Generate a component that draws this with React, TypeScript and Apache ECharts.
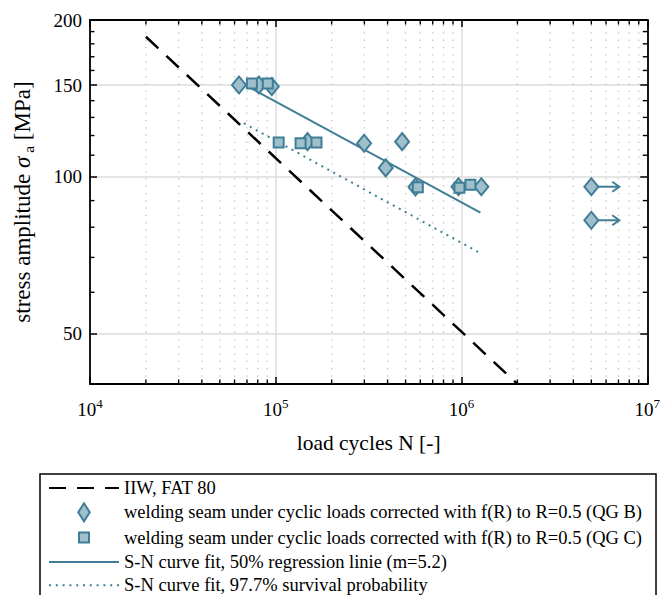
import React, { useEffect, useRef } from "react";
import * as echarts from "echarts";

// ---- axis ranges & ticks ----
const X_MIN = 1e4;
const X_MAX = 1e7;
const Y_MIN = 40;
const Y_MAX = 200;
const yTickValues = [50, 100, 150, 200];
const yMinorValues = [60, 70, 80, 90, 110, 120, 130, 140, 160, 170, 180, 190];
const xMinorValues = [
  2e4, 3e4, 4e4, 5e4, 6e4, 7e4, 8e4, 9e4,
  2e5, 3e5, 4e5, 5e5, 6e5, 7e5, 8e5, 9e5,
  2e6, 3e6, 4e6, 5e6, 6e6, 7e6, 8e6, 9e6,
];

// ---- data (N, stress amplitude MPa) ----
const iiwFat80 = [
  [20000, 185.7],
  [2000000, 40],
];
const qgB = [
  [63400, 150],
  [81100, 150],
  [95200, 149],
  [148300, 116.8],
  [299000, 116],
  [390800, 104],
  [479000, 116.8],
  [565000, 95.6],
  [963000, 95.7],
  [1279000, 95.7],
  [5000000, 95.7],
  [5000000, 82.5],
];
const qgC = [
  [74400, 151],
  [90600, 151],
  [103700, 116.3],
  [136000, 116],
  [165700, 116.3],
  [582000, 95.5],
  [975000, 95.3],
  [1117000, 96.5],
];
const fit50 = [
  [71700, 148.7],
  [1264000, 85.3],
];
const fit977 = [
  [67400, 126.7],
  [1264000, 71.3],
];
// runouts: start N, stress, arrow end N
const runouts = [
  [5000000, 95.7, 7070000],
  [5000000, 82.5, 7070000],
];

const NAME_FAT = "IIW, FAT 80";
const NAME_B = "welding seam under cyclic loads corrected with f(R) to R=0.5 (QG B)";
const NAME_C = "welding seam under cyclic loads corrected with f(R) to R=0.5 (QG C)";
const NAME_50 = "S-N curve fit, 50% regression linie (m=5.2)";
const NAME_977 = "S-N curve fit, 97.7% survival probability";

const SERIF = "Liberation Serif, DejaVu Serif, serif";
const TEAL = "#3f7e96";
const FILL = "#9fbfcb";
const GRID = "#dcdcdc";
const GRID_DOT = "#c4c4c4";

export default function App() {
  const ref = useRef<HTMLDivElement>(null);

  useEffect(() => {
    if (!ref.current) return;
    const chart = echarts.init(ref.current, undefined, { renderer: "svg" });

    const axisLine = { show: true, lineStyle: { color: "#000", width: 1.8 } };
    const hiddenSymbol = { opacity: 0 };

    const option: any = {
      animation: false,
      backgroundColor: "#fff",
      textStyle: { fontFamily: SERIF },
      grid: { left: 90, right: 11, top: 20, bottom: 211 },
      xAxis: [
        {
          type: "log",
          min: X_MIN,
          max: X_MAX,
          position: "bottom",
          axisLine,
          axisTick: { show: true, inside: true, length: 7, lineStyle: { color: "#000", width: 1.5 } },
          splitLine: { show: true, lineStyle: { color: GRID, width: 1.5 } },
          axisLabel: {
            margin: 13,
            color: "#000",
            formatter: (v: number) => `{b|10}{s|${Math.round(Math.log10(v))}}`,
            rich: {
              b: { fontSize: 19, fontFamily: SERIF, color: "#000" },
              s: { fontSize: 13, fontFamily: SERIF, color: "#000", padding: [0, 0, 11, 0] },
            },
          },
          name: "load cycles N [-]",
          nameLocation: "middle",
          nameGap: 48,
          nameTextStyle: { fontSize: 21.5, fontFamily: SERIF, color: "#000" },
        },
        {
          type: "log",
          min: X_MIN,
          max: X_MAX,
          position: "top",
          axisLine,
          axisTick: { show: true, inside: true, length: 7, lineStyle: { color: "#000", width: 1.5 } },
          splitLine: { show: false },
          axisLabel: { show: false },
        },
      ],
      yAxis: [
        {
          type: "log",
          min: Y_MIN,
          max: Y_MAX,
          position: "left",
          axisLine,
          axisTick: {
            show: true,
            inside: true,
            length: 7,
            customValues: yTickValues,
            lineStyle: { color: "#000", width: 1.5 },
          },
          splitLine: { show: true, lineStyle: { color: GRID, width: 1.5 } },
          axisLabel: {
            customValues: yTickValues,
            margin: 8,
            fontSize: 19,
            fontFamily: SERIF,
            color: "#000",
          },
          name: "{t|stress amplitude }{i|σ}{s|a}{t| [MPa]}",
          nameLocation: "middle",
          nameGap: 54,
          nameTextStyle: {
            color: "#000",
            fontFamily: SERIF,
            fontSize: 23,
            rich: {
              t: { fontSize: 23, fontFamily: SERIF, color: "#000" },
              i: { fontSize: 23, fontFamily: SERIF, fontStyle: "italic", color: "#000" },
              s: { fontSize: 15.5, fontFamily: SERIF, color: "#000", padding: [12, 0, 0, 4] },
            },
          },
        },
        {
          type: "log",
          min: Y_MIN,
          max: Y_MAX,
          position: "right",
          axisLine,
          axisTick: {
            show: true,
            inside: true,
            length: 7,
            customValues: yTickValues,
            lineStyle: { color: "#000", width: 1.5 },
          },
          splitLine: { show: false },
          axisLabel: { show: false },
        },
      ],
      legend: {
        orient: "vertical",
        left: 40,
        top: 474,
        height: 160,
        padding: [4, 14, 10, 8],
        itemGap: 3.3,
        itemWidth: 70,
        itemHeight: 20,
        borderColor: "#000",
        borderWidth: 1.5,
        borderRadius: 0,
        backgroundColor: "#fff",
        textStyle: { fontFamily: SERIF, fontSize: 18.5, color: "#000", lineHeight: 20 },
        data: [
          { name: NAME_FAT, itemStyle: hiddenSymbol },
          { name: NAME_B, icon: "path://M0,0 M20,20 M10,1 L15.75,10 L10,19 L4.25,10 Z" },
          { name: NAME_C, icon: "path://M0,0 M20,20 M5,5 L15,5 L15,15 L5,15 Z" },
          { name: NAME_50, itemStyle: hiddenSymbol },
          { name: NAME_977, itemStyle: hiddenSymbol },
        ],
      },
      series: [
        {
          type: "custom",
          name: "xMinor",
          silent: true,
          z: 1,
          xAxisIndex: 0,
          yAxisIndex: 0,
          data: xMinorValues.map((v) => [v, Y_MIN]),
          renderItem: (params: any, api: any) => {
            const v = api.value(0);
            const b = api.coord([v, Y_MIN]);
            const t = api.coord([v, Y_MAX]);
            return {
              type: "group",
              children: [
                {
                  type: "line",
                  shape: { x1: b[0], y1: b[1], x2: t[0], y2: t[1] },
                  style: { stroke: GRID_DOT, lineWidth: 1.3, lineDash: [1.3, 6] },
                },
                {
                  type: "line",
                  shape: { x1: b[0], y1: b[1], x2: b[0], y2: b[1] - 4.5 },
                  style: { stroke: "#000", lineWidth: 1.4 },
                },
                {
                  type: "line",
                  shape: { x1: t[0], y1: t[1], x2: t[0], y2: t[1] + 4.5 },
                  style: { stroke: "#000", lineWidth: 1.4 },
                },
              ],
            };
          },
        },
        {
          type: "custom",
          name: "yMinor",
          silent: true,
          z: 1,
          xAxisIndex: 0,
          yAxisIndex: 0,
          data: yMinorValues.map((v) => [X_MIN, v]),
          renderItem: (params: any, api: any) => {
            const v = api.value(1);
            const l = api.coord([X_MIN, v]);
            const r = api.coord([X_MAX, v]);
            return {
              type: "group",
              children: [
                {
                  type: "line",
                  shape: { x1: l[0], y1: l[1], x2: l[0] + 4.5, y2: l[1] },
                  style: { stroke: "#000", lineWidth: 1.4 },
                },
                {
                  type: "line",
                  shape: { x1: r[0], y1: r[1], x2: r[0] - 4.5, y2: r[1] },
                  style: { stroke: "#000", lineWidth: 1.4 },
                },
              ],
            };
          },
        },
        {
          type: "line",
          name: NAME_FAT,
          data: iiwFat80,
          symbol: "none",
          showSymbol: false,
          z: 3,
          lineStyle: { color: "#000", width: 2.5, type: [17, 11], cap: "butt" },
          itemStyle: { color: "#000" },
        },
        {
          type: "line",
          name: NAME_50,
          data: fit50,
          symbol: "none",
          showSymbol: false,
          z: 3,
          lineStyle: { color: TEAL, width: 2 },
          itemStyle: { color: TEAL },
        },
        {
          type: "line",
          name: NAME_977,
          data: fit977,
          symbol: "none",
          showSymbol: false,
          z: 3,
          lineStyle: { color: TEAL, width: 2, type: [2, 4.8] },
          itemStyle: { color: TEAL },
        },
        {
          type: "custom",
          name: "runout",
          silent: true,
          z: 3,
          data: runouts,
          renderItem: (params: any, api: any) => {
            const p0 = api.coord([api.value(0), api.value(1)]);
            const p1 = api.coord([api.value(2), api.value(1)]);
            return {
              type: "group",
              children: [
                {
                  type: "line",
                  shape: { x1: p0[0], y1: p0[1], x2: p1[0], y2: p1[1] },
                  style: { stroke: TEAL, lineWidth: 2 },
                },
                {
                  type: "polyline",
                  shape: {
                    points: [
                      [p1[0] - 7, p1[1] - 5],
                      [p1[0], p1[1]],
                      [p1[0] - 7, p1[1] + 5],
                    ],
                  },
                  style: { stroke: TEAL, lineWidth: 2, fill: "none" },
                },
              ],
            };
          },
        },
        {
          type: "scatter",
          name: NAME_B,
          data: qgB,
          symbol: "diamond",
          symbolSize: [14, 17],
          z: 4,
          itemStyle: { color: FILL, borderColor: TEAL, borderWidth: 2, opacity: 1 },
        },
        {
          type: "scatter",
          name: NAME_C,
          data: qgC,
          symbol: "rect",
          symbolSize: 10,
          z: 5,
          itemStyle: { color: FILL, borderColor: TEAL, borderWidth: 2, opacity: 1 },
        },
      ],
    };

    chart.setOption(option);
    return () => chart.dispose();
  }, []);

  return (
    <div
      ref={ref}
      style={{ position: "fixed", left: 0, top: 0, width: 663, height: 595, background: "#fff" }}
    />
  );
}
